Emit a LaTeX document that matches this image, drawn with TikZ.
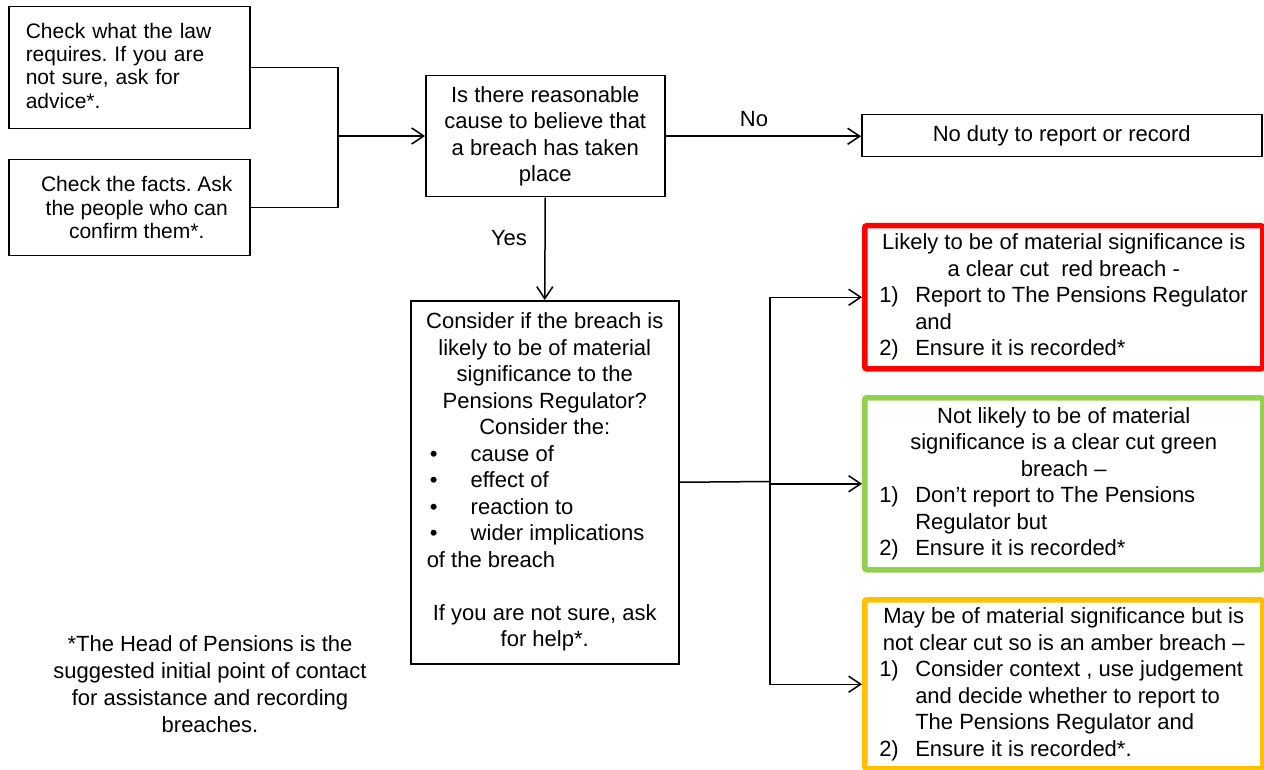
\documentclass[tikz,border=0pt]{standalone}
\usepackage{fontspec}
\setmainfont{Liberation Sans}
\usetikzlibrary{arrows.meta}
\definecolor{rbred}{HTML}{FF0000}
\definecolor{rbgreen}{HTML}{92D050}
\definecolor{rbamber}{HTML}{FFC000}
\frenchspacing
\newcommand{\numitem}[2]{\makebox[369pt][l]{\makebox[36pt][l]{#1}#2}}
\newcommand{\contitem}[1]{\makebox[369pt][l]{\hspace*{36pt}#1}}
\newcommand{\bulitem}[1]{\makebox[236pt][l]{\hspace*{3pt}\makebox[41pt][l]{•}#1}}
\begin{document}
\begin{tikzpicture}[x=1pt,y=-1pt,
  box/.style={draw=black, line width=1.5pt, inner sep=0pt, anchor=north west, align=center,
    font=\fontsize{22pt}{26.5pt}\selectfont},
  smallbox/.style={box, font=\fontsize{21pt}{23.3pt}\selectfont},
  colbox/.style={box, line width=5.5pt, rounded corners=2pt},
  conn/.style={line width=1.5pt},
  arr/.style={conn, -{Straight Barb[length=12pt,width=16pt,line width=1.5pt]}},
  lbl/.style={font=\fontsize{22pt}{26.5pt}\selectfont, inner sep=0pt}
]
\useasboundingbox[fill=white] (0,0) rectangle (1264,770);

\node[smallbox, align=left, text width=207pt, minimum width=241pt, minimum height=122pt] (A) at (8,6)
  {Check what the law\\ requires. If you are\\ not sure, ask for\\ advice*.\vphantom{g}\\[-6pt]};
\node[smallbox, minimum width=241pt, minimum height=96pt] (B) at (8,159)
  {\hspace*{15pt}Check the facts. Ask\\ \hspace*{15pt}the people who can\\ \hspace*{15pt}confirm them*.};

\node[box, minimum width=239pt, minimum height=121pt] (C) at (425,75)
  {Is there reasonable\\ cause to believe that\\ a breach has taken\\ place};

\node[box, minimum width=400pt, minimum height=42pt] (N) at (861,114)
  {No duty to report or record};

\node[box, minimum width=268pt, minimum height=363pt] (D) at (410,300)
  {Consider if the breach is\\ likely to be of material\\ significance to the\\ Pensions Regulator?\\ Consider the:\\
   \bulitem{cause of}\\ \bulitem{effect of}\\ \bulitem{reaction to}\\ \bulitem{wider implications}\\
   \makebox[236pt][l]{of the breach}\\[26.5pt]
   If you are not sure, ask\\ for help*.};

\node[colbox, draw=rbred, minimum width=398pt, minimum height=143pt] (R) at (862,223)
  {Likely to be of material significance is\\ a clear cut\ \ red breach -\\
   \numitem{1)}{Report to The Pensions Regulator}\\ \contitem{and}\\ \numitem{2)}{Ensure it is recorded*}};

\node[colbox, draw=rbgreen, minimum width=398pt, minimum height=172pt] (G) at (862,395)
  {Not likely to be of material\\ significance is a clear cut green\\ breach –\\
   \numitem{1)}{Don’t report to The Pensions}\\ \contitem{Regulator but}\\ \numitem{2)}{Ensure it is recorded*}};

\node[colbox, draw=rbamber, minimum width=398pt, minimum height=169pt] (M) at (862,597)
  {May be of material significance but is\\ not clear cut so is an amber breach –\\
   \numitem{1)}{Consider context , use judgement}\\ \contitem{and decide whether to report to}\\
   \contitem{The Pensions Regulator and}\\ \numitem{2)}{Ensure it is recorded*.}};

\node[lbl, align=center, font=\fontsize{22pt}{27pt}\selectfont] (F) at (210,684)
  {*The Head of Pensions is the\\ suggested initial point of contact\\ for assistance and recording\\ breaches.};

\node[lbl] (no) at (754,119) {No};
\node[lbl] (yes) at (509,238) {Yes};

\coordinate (j1) at (338,136);
\coordinate (j2) at (770,481.5);

\draw[conn] (A.east) -| (j1) |- (B.east);
\draw[arr] (j1) -- (j1 -| C.west);
\draw[arr] (C.east) -- (C.east -| N.west);
\draw[arr] (C.south) -- (D.north);
\draw[conn] (D.east) -- (j2);
\draw[arr] (j2) |- (R.west);
\draw[arr] (j2) |- (G.west);
\draw[arr] (j2) |- (M.west);
\end{tikzpicture}
\end{document}
